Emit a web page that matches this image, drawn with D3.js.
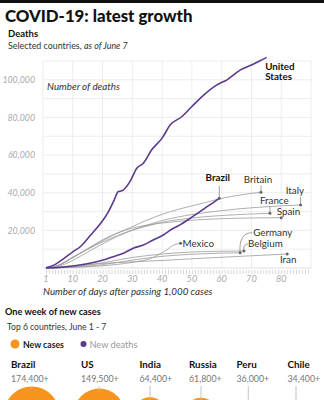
<!DOCTYPE html>
<html>
<head>
<meta charset="utf-8">
<script src="https://cdn.jsdelivr.net/npm/d3@7"></script>
<style>
  body { margin: 0; background: #fff; }
  svg { display: block; font-family: Lato, "Open Sans", sans-serif; }
</style>
</head>
<body>
<div id="content"></div>
<script>
// cumulative deaths, [day after passing 1,000 cases, deaths]
const unitedStates = [[1,100],[4,1800],[7,5000],[10,8600],[12.5,11300],[16,17500],[19.5,24000],[22,30000],[24,36500],[25.3,40600],[26.5,41000],[29.2,45900],[31.5,53000],[33.7,55700],[36.5,62800],[40,69000],[42.7,76000],[46.7,80500],[50,85800],[53.4,91100],[58.4,97300],[61.8,100000],[66.3,105300],[70.2,108000],[73.5,110600],[75.1,111900]];
const brazil = [[1,0],[6,400],[12.4,1600],[18,3350],[21.4,4800],[23.6,6000],[27,7800],[30.3,10500],[33.7,12200],[37,14900],[40.4,17550],[43.2,20600],[46,22900],[49.4,26400],[52.7,29950],[56,33500],[59.2,37100]];
const britain = [[1,0],[5,1200],[10,5500],[15,10000],[20,14500],[25,18500],[30,22000],[35,25500],[40,28500],[45,31000],[50,33000],[55,35000],[60,37000],[65,38500],[73.2,40300]];
const italy = [[1,0],[5,1500],[10,5800],[15,10000],[20,13800],[25,17200],[30,20200],[35,22800],[40,25200],[45,27000],[50,28400],[60,30500],[70,32000],[80,33000],[86.5,33500]];
const france = [[1,0],[5,800],[10,4000],[15,8500],[20,12800],[25,16800],[30,20000],[35,22300],[40,24300],[45,25600],[50,26600],[60,27900],[70,28700],[76.2,29100]];
const spain = [[1,0],[5,1200],[10,5500],[15,10300],[20,15000],[25,18600],[30,21200],[35,22800],[40,23900],[45,24700],[50,25400],[60,26200],[70,26600],[80,26750]];
const germany = [[1,0],[10,400],[20,1800],[30,4200],[40,6200],[50,7300],[60,7900],[66.2,8150]];
const belgium = [[1,0],[10,600],[20,2800],[30,5600],[40,7400],[50,8500],[60,8900],[67.5,9050]];
const mexico = [[1,0],[10,300],[20,1200],[30,3000],[36,5000],[41.5,9600],[44,12300],[46.2,13150]];
const iran = [[1,0],[10,1100],[20,2400],[30,3300],[40,4000],[50,4900],[60,5700],[70,6500],[82,7450]];

const xTicks = [1, 10, 20, 30, 40, 50, 60, 70, 80];
const yTicks = [20000, 40000, 60000, 80000, 100000];

// one week of new cases, June 1 - 7
const topCountries = ["Brazil", "US", "India", "Russia", "Peru", "Chile"];
const newCases = [174400, 149500, 64400, 61800, 36000, 34400];

const purple = "#5b3a8e";
const orange = "#f7941d";
const grey = "#9b9b9b";

const series = [
    { name: "Iran", data: iran, main: false, lab: { dx: 1, dy: 9, anchor: "middle" } },
    { name: "Germany", data: germany, main: false, lab: { dx: 13, dy: -17, anchor: "start", curve: [12, -20] } },
    { name: "Belgium", data: belgium, main: false, lab: { dx: 4, dy: -4, anchor: "start", curve: [4, -7] } },
    { name: "Mexico", data: mexico, main: false, lab: { dx: 2, dy: 3.5, anchor: "start" } },
    { name: "Spain", data: spain, main: false, lab: { dx: -4.5, dy: -2.5, anchor: "start" } },
    { name: "France", data: france, main: false, lab: { dx: -10, dy: -9.5, anchor: "start", lead: -7 } },
    { name: "Italy", data: italy, main: false, lab: { dx: 3.5, dy: -11, anchor: "end", lead: -8 } },
    { name: "Britain", data: britain, main: false, lab: { dx: -3, dy: -9.5, anchor: "middle", lead: -6.5 } },
    { name: "Brazil", data: brazil, main: true, lab: { dx: -1.5, dy: -17.5, anchor: "middle", lead: -12.5 } },
    { name: "United States", data: unitedStates, main: true, lab: { dx: -1.5, dy: 12.5, anchor: "start" } },
];

const W = 324, H = 400;
const svg = d3.select("#content").append("svg").attr("width", W).attr("height", H);

// top rule and headings
svg.append("rect").attr("x", 0).attr("y", 0).attr("width", W).attr("height", 3).attr("fill", "#111");
svg.append("text").attr("x", 5).attr("y", 22).attr("font-size", 16.8).attr("font-weight", 900)
    .attr("fill", "#111").text("COVID-19: latest growth");
svg.append("text").attr("x", 8).attr("y", 37).attr("font-size", 9.5).attr("font-weight", 700)
    .attr("fill", "#111").text("Deaths");
const sub = svg.append("text").attr("x", 8).attr("y", 48.5).attr("font-size", 8.9).attr("fill", "#333");
sub.append("tspan").text("Selected countries, ");
sub.append("tspan").attr("font-style", "italic").text("as of June 7");

// scales
const x = d3.scaleLinear().domain([0, 90]).range([43, 311]);
const y = d3.scaleLinear().domain([0, 110000]).range([268, 61]);

// grid
const grid = svg.append("g").attr("stroke", "#e8e8e8").attr("stroke-width", 0.8);
grid.selectAll("line.h").data(d3.range(10000, 110001, 10000)).join("line")
    .attr("x1", x(0)).attr("x2", x(90)).attr("y1", d => y(d)).attr("y2", d => y(d));
grid.selectAll("line.v").data(d3.range(0, 91, 10)).join("line")
    .attr("x1", d => x(d)).attr("x2", d => x(d)).attr("y1", y(110000)).attr("y2", y(0));

// axes
const yAxis = svg.append("g").attr("transform", `translate(${x(0) - 5},0)`)
    .call(d3.axisLeft(y).tickValues(yTicks).tickSize(0).tickFormat(d3.format(",")));
yAxis.select(".domain").remove();
yAxis.selectAll("text").attr("font-size", 8.8).attr("font-style", "italic").attr("fill", "#aaa")
    .attr("font-family", "Lato, sans-serif");

const xAxis = svg.append("g").attr("transform", `translate(0,${y(0) + 2})`)
    .call(d3.axisBottom(x).tickValues(d3.range(1, 90)).tickSize(4).tickFormat(""));
xAxis.select(".domain").remove();
xAxis.selectAll("line").attr("stroke", "#c4c4c4").attr("stroke-width", 0.7);
svg.append("line").attr("x1", x(0)).attr("x2", x(90)).attr("y1", y(0)).attr("y2", y(0))
    .attr("stroke", "#d8d8d8").attr("stroke-width", 0.8);

svg.append("g").selectAll("text").data(xTicks).join("text")
    .attr("x", d => x(d)).attr("y", 282).attr("text-anchor", "middle")
    .attr("font-size", 9.2).attr("font-style", "italic").attr("fill", "#aaa").text(d => d);

svg.append("text").attr("x", 43).attr("y", 295).attr("font-size", 9.8).attr("font-style", "italic")
    .attr("fill", "#333").text("Number of days after passing 1,000 cases");
svg.append("text").attr("x", 47).attr("y", 90).attr("font-size", 9.8).attr("font-style", "italic")
    .attr("fill", "#333").text("Number of deaths");

// lines
const line = d3.line().x(d => x(d[0])).y(d => y(d[1])).curve(d3.curveMonotoneX);

svg.append("g").selectAll("path").data(series).join("path")
    .attr("d", d => line(d.data))
    .attr("fill", "none")
    .attr("stroke", d => d.main ? purple : grey)
    .attr("stroke-width", d => d.main ? 1.6 : 0.8)
    .attr("stroke-linejoin", "round");

// end labels and leaders
const labels = svg.append("g");
series.forEach(s => {
    const last = s.data[s.data.length - 1];
    const ex = x(last[0]), ey = y(last[1]);
    const L = s.lab;
    if (L.lead) {
        labels.append("line").attr("x1", ex).attr("x2", ex).attr("y1", ey).attr("y2", ey + L.lead)
            .attr("stroke", "#777").attr("stroke-width", 0.7);
    }
    if (L.curve) {
        const [cx, cy] = L.curve;
        labels.append("path")
            .attr("d", `M${ex},${ey} C${ex - 1},${ey + cy * 0.6} ${ex + cx * 0.2},${ey + cy} ${ex + cx},${ey + cy}`)
            .attr("fill", "none").attr("stroke", "#777").attr("stroke-width", 0.7);
    }
    if (s.name !== "United States") {
        labels.append("circle").attr("cx", ex).attr("cy", ey).attr("r", 1.5).attr("fill", "#666");
    }
    const t = labels.append("text").attr("x", ex + L.dx).attr("y", ey + L.dy)
        .attr("text-anchor", L.anchor).attr("font-size", 9.8)
        .attr("font-weight", s.main ? 700 : 400).attr("fill", s.main ? "#111" : "#333");
    if (s.name === "United States") {
        t.append("tspan").attr("x", ex + L.dx).text("United");
        t.append("tspan").attr("x", ex + L.dx).attr("dy", 10.5).text("States");
    } else {
        t.text(s.name);
    }
});

// bottom panel: one week of new cases
svg.append("text").attr("x", 5).attr("y", 315).attr("font-size", 9.2).attr("font-weight", 700)
    .attr("fill", "#111").text("One week of new cases");
svg.append("text").attr("x", 7).attr("y", 330).attr("font-size", 8.6).attr("fill", "#333")
    .text("Top 6 countries, June 1 - 7");

svg.append("circle").attr("cx", 15).attr("cy", 344).attr("r", 4.5).attr("fill", orange);
svg.append("text").attr("x", 23).attr("y", 347.5).attr("font-size", 8.7).attr("font-weight", 700)
    .attr("fill", "#222").text("New cases");
svg.append("circle").attr("cx", 83.5).attr("cy", 344).attr("r", 3).attr("fill", purple);
svg.append("text").attr("x", 89.5).attr("y", 347.5).attr("font-size", 9.2)
    .attr("fill", "#999").text("New deaths");

const colLeft = [11, 81, 139.5, 189, 236.5, 287.5];
const colCentre = [31.7, 99.3, 150, 201, 248.3, 296];
const r = d3.scaleSqrt().domain([0, d3.max(newCases)]).range([0, 27.5]);
const fmt = d3.format(",");
const circleY = 414;

const cols = svg.append("g").selectAll("g").data(topCountries).join("g");
cols.append("line")
    .attr("x1", (d, i) => colCentre[i]).attr("x2", (d, i) => colCentre[i])
    .attr("y1", 386).attr("y2", circleY).attr("stroke", "#aaa").attr("stroke-width", 0.7);
cols.append("circle")
    .attr("cx", (d, i) => colCentre[i]).attr("cy", circleY)
    .attr("r", (d, i) => r(newCases[i])).attr("fill", orange);
cols.append("line")
    .attr("x1", (d, i) => colCentre[i]).attr("x2", (d, i) => colCentre[i])
    .attr("y1", (d, i) => circleY - r(newCases[i]) - 2).attr("y2", (d, i) => circleY - r(newCases[i]) + 3)
    .attr("stroke", "#ffffff").attr("stroke-opacity", 0.35).attr("stroke-width", 0.7);
cols.append("text")
    .attr("x", (d, i) => colLeft[i]).attr("y", 368).attr("font-size", 9.8).attr("font-weight", 700)
    .attr("fill", "#111").text(d => d);
cols.append("text")
    .attr("x", (d, i) => colLeft[i]).attr("y", 382).attr("font-size", 8.8)
    .attr("fill", "#777").text((d, i) => fmt(newCases[i]) + "+");
</script>
</body>
</html>
